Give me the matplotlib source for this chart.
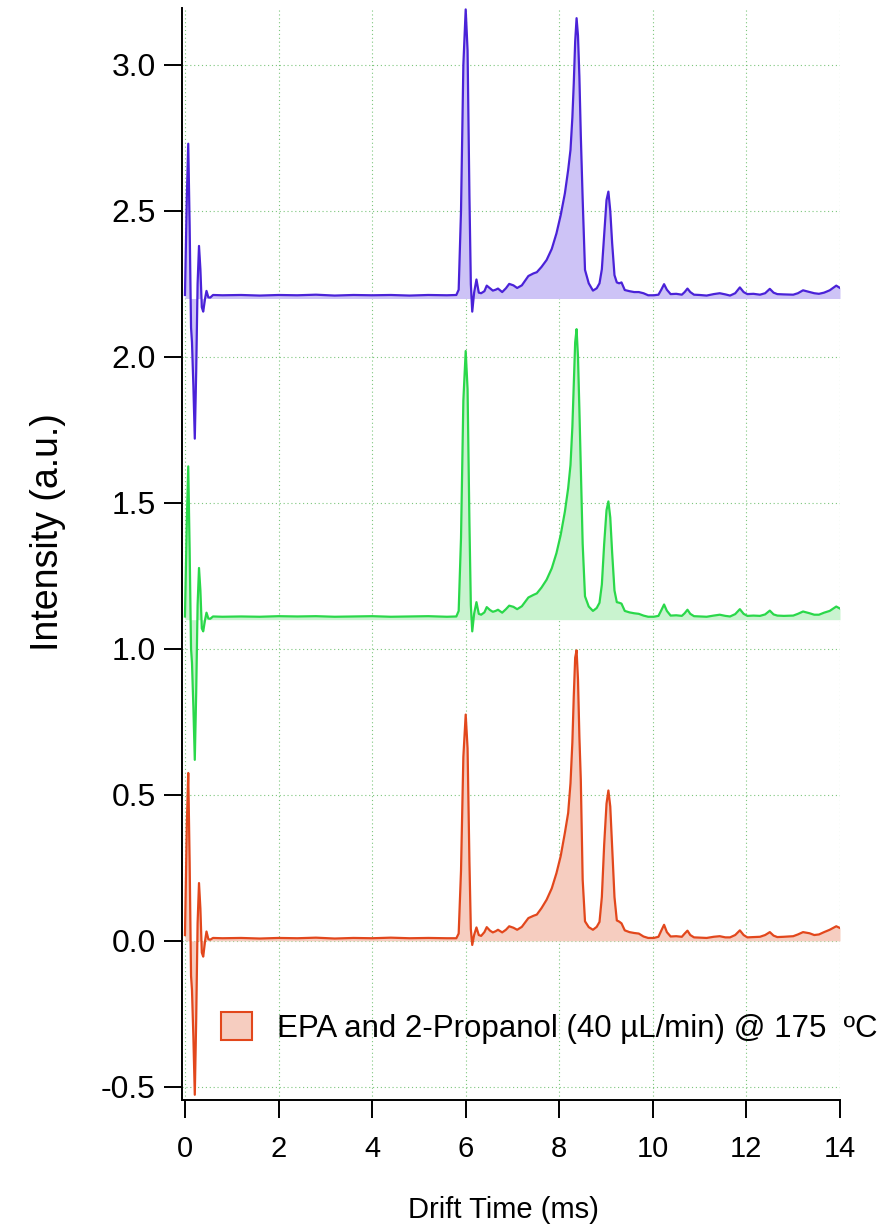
import matplotlib
matplotlib.use("Agg")
import numpy as np
import matplotlib.pyplot as plt
from matplotlib.patches import Patch

# drift time axis (ms), shared by the three spectra
drift_time = [
    0.00, 0.04, 0.07, 0.10, 0.13, 0.15, 0.18, 0.21, 0.24, 0.27,
    0.30, 0.33, 0.36, 0.39, 0.43, 0.46, 0.50, 0.54, 0.60, 0.80,
    1.20, 1.60, 2.00, 2.40, 2.80, 3.20, 3.60, 4.00, 4.40, 4.80,
    5.20, 5.60, 5.80, 5.85, 5.90, 5.95, 6.00, 6.04, 6.08, 6.11,
    6.14, 6.18, 6.23, 6.28, 6.33, 6.40, 6.45, 6.52, 6.58, 6.64,
    6.69, 6.78, 6.86, 6.93, 7.02, 7.10, 7.20, 7.34, 7.45, 7.52,
    7.62, 7.73, 7.84, 7.94, 8.03, 8.12, 8.19, 8.24, 8.28, 8.31,
    8.34, 8.37, 8.40, 8.43, 8.46, 8.50, 8.55, 8.63, 8.72, 8.80,
    8.86, 8.91, 8.96, 9.01, 9.05, 9.09, 9.13, 9.18, 9.23, 9.28,
    9.33, 9.40, 9.50, 9.60, 9.70, 9.80, 9.90, 10.02, 10.12, 10.18,
    10.24, 10.30, 10.38, 10.50, 10.62, 10.68, 10.74, 10.80, 10.88, 11.00,
    11.15, 11.30, 11.43, 11.55, 11.65, 11.76, 11.86, 11.94, 12.02, 12.15,
    12.29, 12.40, 12.50, 12.58, 12.66, 12.80, 13.00, 13.10, 13.21, 13.35,
    13.45, 13.55, 13.66, 13.78, 13.92, 14.00,
]

# intensities relative to each trace's own baseline
top_signal = [
    0.012, 0.35, 0.53, 0.25, -0.10, -0.15, -0.30, -0.48, -0.25, 0.05,
    0.18, 0.10, -0.03, -0.045, 0.00, 0.026, 0.004, 0.003, 0.012, 0.011,
    0.012, 0.010, 0.012, 0.011, 0.013, 0.010, 0.012, 0.011, 0.012, 0.010,
    0.012, 0.011, 0.012, 0.03, 0.30, 0.80, 0.99, 0.85, 0.35, 0.05,
    -0.045, 0.02, 0.065, 0.02, 0.018, 0.025, 0.044, 0.035, 0.027, 0.030,
    0.034, 0.022, 0.035, 0.050, 0.045, 0.036, 0.045, 0.077, 0.086, 0.090,
    0.108, 0.132, 0.170, 0.223, 0.285, 0.360, 0.440, 0.509, 0.620, 0.737,
    0.880, 0.960, 0.900, 0.760, 0.560, 0.340, 0.098, 0.052, 0.027, 0.035,
    0.052, 0.100, 0.220, 0.337, 0.366, 0.300, 0.190, 0.080, 0.055, 0.052,
    0.055, 0.029, 0.025, 0.022, 0.022, 0.018, 0.011, 0.011, 0.013, 0.030,
    0.049, 0.030, 0.015, 0.016, 0.013, 0.022, 0.034, 0.022, 0.013, 0.012,
    0.010, 0.015, 0.018, 0.014, 0.010, 0.018, 0.038, 0.022, 0.015, 0.016,
    0.013, 0.018, 0.033, 0.020, 0.015, 0.014, 0.013, 0.018, 0.028, 0.022,
    0.018, 0.016, 0.020, 0.028, 0.044, 0.036,
]

mid_signal = [
    0.011, 0.34, 0.525, 0.24, -0.10, -0.148, -0.30, -0.48, -0.25, 0.05,
    0.177, 0.10, -0.03, -0.04, 0.00, 0.024, 0.004, 0.003, 0.011, 0.010,
    0.011, 0.010, 0.012, 0.011, 0.012, 0.010, 0.011, 0.012, 0.010, 0.011,
    0.012, 0.010, 0.011, 0.03, 0.28, 0.75, 0.92, 0.79, 0.33, 0.05,
    -0.04, 0.02, 0.06, 0.02, 0.017, 0.025, 0.043, 0.033, 0.027, 0.030,
    0.034, 0.024, 0.036, 0.048, 0.044, 0.036, 0.046, 0.076, 0.085, 0.090,
    0.110, 0.137, 0.176, 0.228, 0.290, 0.370, 0.450, 0.530, 0.660, 0.800,
    0.950, 0.995, 0.900, 0.720, 0.520, 0.260, 0.080, 0.045, 0.030, 0.040,
    0.058, 0.120, 0.260, 0.375, 0.405, 0.350, 0.230, 0.100, 0.060, 0.058,
    0.055, 0.030, 0.025, 0.022, 0.020, 0.014, 0.010, 0.010, 0.013, 0.032,
    0.052, 0.030, 0.014, 0.015, 0.013, 0.022, 0.034, 0.020, 0.012, 0.011,
    0.010, 0.014, 0.017, 0.013, 0.011, 0.019, 0.036, 0.020, 0.013, 0.014,
    0.013, 0.018, 0.031, 0.018, 0.014, 0.013, 0.014, 0.020, 0.028, 0.022,
    0.017, 0.017, 0.024, 0.030, 0.045, 0.038,
]

bottom_signal = [
    0.02, 0.40, 0.575, 0.27, -0.12, -0.168, -0.33, -0.527, -0.27, 0.06,
    0.198, 0.11, -0.04, -0.054, 0.00, 0.032, 0.006, 0.004, 0.010, 0.009,
    0.010, 0.008, 0.010, 0.009, 0.011, 0.008, 0.010, 0.009, 0.011, 0.009,
    0.010, 0.009, 0.009, 0.025, 0.24, 0.63, 0.775, 0.66, 0.27, 0.04,
    -0.014, 0.02, 0.046, 0.02, 0.017, 0.030, 0.047, 0.035, 0.029, 0.033,
    0.038, 0.029, 0.038, 0.050, 0.045, 0.038, 0.048, 0.078, 0.086, 0.090,
    0.112, 0.141, 0.180, 0.232, 0.290, 0.370, 0.438, 0.540, 0.680, 0.838,
    0.970, 0.995, 0.895, 0.700, 0.553, 0.210, 0.067, 0.047, 0.038, 0.048,
    0.065, 0.150, 0.330, 0.470, 0.515, 0.460, 0.320, 0.150, 0.070, 0.066,
    0.060, 0.036, 0.030, 0.027, 0.025, 0.015, 0.010, 0.010, 0.014, 0.035,
    0.055, 0.030, 0.015, 0.016, 0.014, 0.025, 0.035, 0.020, 0.012, 0.011,
    0.010, 0.014, 0.016, 0.012, 0.012, 0.020, 0.036, 0.020, 0.012, 0.013,
    0.014, 0.020, 0.030, 0.018, 0.013, 0.014, 0.016, 0.022, 0.030, 0.026,
    0.020, 0.022, 0.030, 0.038, 0.050, 0.044,
]

offsets = [2.2, 1.1, 0.0]
signals = [top_signal, mid_signal, bottom_signal]
line_colors = ["#4a22d8", "#2ad84a", "#e2471c"]
fill_colors = ["#cdc3f6", "#c9f3cf", "#f6cdc0"]
legend_label = "EPA and 2-Propanol (40 µL/min) @ 175  ºC"

x_ticks = [0, 2, 4, 6, 8, 10, 12, 14]
y_ticks = [-0.5, 0.0, 0.5, 1.0, 1.5, 2.0, 2.5, 3.0]

plt.rcParams['font.family'] = ['Liberation Sans', 'DejaVu Sans']

fig = plt.figure(figsize=(8.92, 12.24), dpi=100)
ax = fig.add_axes([0.204, 0.1013, 0.7377, 0.8922])

x = np.array(drift_time)
for sig, off, lc, fc in zip(signals, offsets, line_colors, fill_colors):
    y = np.array(sig) + off
    ax.fill_between(x, off, y, color=fc, lw=0, zorder=2)
    ax.plot(x, y, color=lc, lw=1.6, zorder=3)

ax.set_xlim(-0.064, 14.0)
ax.set_ylim(-0.545, 3.195)
ax.set_xticks(x_ticks)
ax.set_yticks(y_ticks)
ax.set_xticklabels([str(t) for t in x_ticks])
ax.set_yticklabels(["%.1f" % t for t in y_ticks])

ax.grid(True, color="#5cb85c", linestyle=(0, (1, 2.5)), lw=0.8, alpha=0.8)
ax.set_axisbelow(True)

for side in ["top", "right"]:
    ax.spines[side].set_visible(False)
ax.spines["left"].set_linewidth(1.4)
ax.spines["bottom"].set_linewidth(1.4)
ax.tick_params(direction="out", length=13, width=1.4)
ax.tick_params(axis="x", labelsize=21, pad=12)
ax.tick_params(axis="y", labelsize=23, pad=6)

ax.set_xlabel("Drift Time (ms)", fontsize=21)
ax.xaxis.set_label_coords(0.488, -0.088)
ax.set_ylabel("Intensity (a.u.)", fontsize=27)
ax.yaxis.set_label_coords(-0.176, 0.52)

handle = Patch(facecolor=fill_colors[2], edgecolor=line_colors[2], lw=1.5)
ax.legend([handle], [legend_label], loc="lower left",
          bbox_to_anchor=(0.04, 0.04), frameon=False, fontsize=22.5,
          handlelength=1.0, handleheight=1.0, handletextpad=0.8,
          borderaxespad=0)

fig.savefig("out.png", dpi=100)
